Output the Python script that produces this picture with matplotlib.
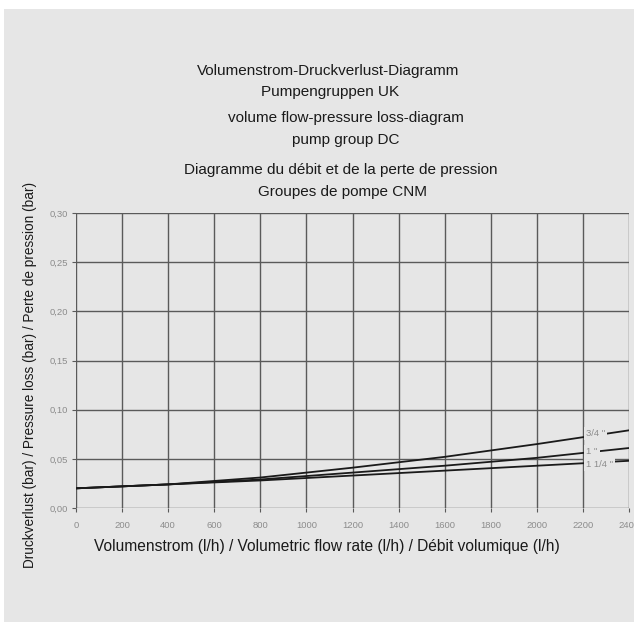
import numpy as np
import matplotlib
matplotlib.use("Agg")
from matplotlib import pyplot as plt
from matplotlib.patches import Rectangle

# data
flow = [0, 400, 800, 1200, 1600, 2000, 2400]
loss_34 = [0.020, 0.024, 0.031, 0.041, 0.052, 0.065, 0.079]
loss_1 = [0.020, 0.024, 0.029, 0.036, 0.043, 0.051, 0.061]
loss_114 = [0.020, 0.024, 0.028, 0.033, 0.038, 0.043, 0.048]
curve_names = ['3/4 "', '1 "', '1 1/4 "']

x_ticks = list(range(0, 2401, 200))
y_ticks = [0.00, 0.05, 0.10, 0.15, 0.20, 0.25, 0.30]
y_tick_labels = ["0,00", "0,05", "0,10", "0,15", "0,20", "0,25", "0,30"]

titles = [
    "Volumenstrom-Druckverlust-Diagramm",
    "Pumpengruppen UK",
    "volume flow-pressure loss-diagram",
    "pump group DC",
    "Diagramme du débit et de la perte de pression",
    "Groupes de pompe CNM",
]

plt.rcParams['font.family'] = ['Liberation Sans', 'DejaVu Sans']

bg = "#e6e6e6"
W, H = 634, 622
fig = plt.figure(figsize=(W / 100, H / 100), dpi=100, facecolor="white")
fig.patches.append(Rectangle((4 / W, 0), 1, 1 - 9 / H, transform=fig.transFigure,
                             facecolor=bg, edgecolor="none", zorder=-5))

ax = fig.add_axes([76 / W, 1 - 508 / H, (629 - 76) / W, (508 - 213) / H])
ax.set_zorder(2)
ax.set_facecolor(bg)
for s in ax.spines.values():
    s.set_visible(False)

ax.grid(True, color="#5a5a5a", linewidth=1.0)
ax.set_axisbelow(True)
ax.set_xlim(0, 2400)
ax.set_ylim(0, 0.30)
ax.set_xticks(x_ticks)
ax.set_xticklabels([str(v) for v in x_ticks])
ax.set_yticks(y_ticks)
ax.set_yticklabels(y_tick_labels)
ax.tick_params(axis="both", length=3, width=0.8, color="#5a5a5a",
               labelsize=6.8, labelcolor="#8c8c8c")
ax.tick_params(axis="x", pad=6)
ax.tick_params(axis="y", pad=3)

for ys in (loss_34, loss_1, loss_114):
    ax.plot(flow, ys, color="#1a1a1a", linewidth=1.3, zorder=3)

# curve labels sit in gaps of the lines
label_pos = [(2214, 0.0755), (2214, 0.0570), (2214, 0.0445)]
for name, (lx, ly) in zip(curve_names, label_pos):
    ax.text(lx, ly, name, fontsize=6.8, color="#8c8c8c", va="center", ha="left",
            zorder=4, bbox=dict(facecolor=bg, edgecolor="none", pad=1.4))

title_pos = [(328, 71), (330, 92), (346, 118), (346, 140), (341, 170), (343, 192)]
for t, (px, py) in zip(titles, title_pos):
    fig.text(px / W, 1 - py / H, t, ha="center", va="center", fontsize=11, color="#1a1a1a")

fig.text(327 / W, 1 - 547 / H,
         "Volumenstrom (l/h) / Volumetric flow rate (l/h) / Débit volumique (l/h)",
         ha="center", va="center", fontsize=11.2, color="#1a1a1a")
fig.text(30 / W, 1 - 375 / H,
         "Druckverlust (bar) / Pressure loss (bar) / Perte de pression (bar)",
         ha="center", va="center", rotation=90, fontsize=9.8, color="#1a1a1a")

fig.savefig("out.png", dpi=100, facecolor="white")
